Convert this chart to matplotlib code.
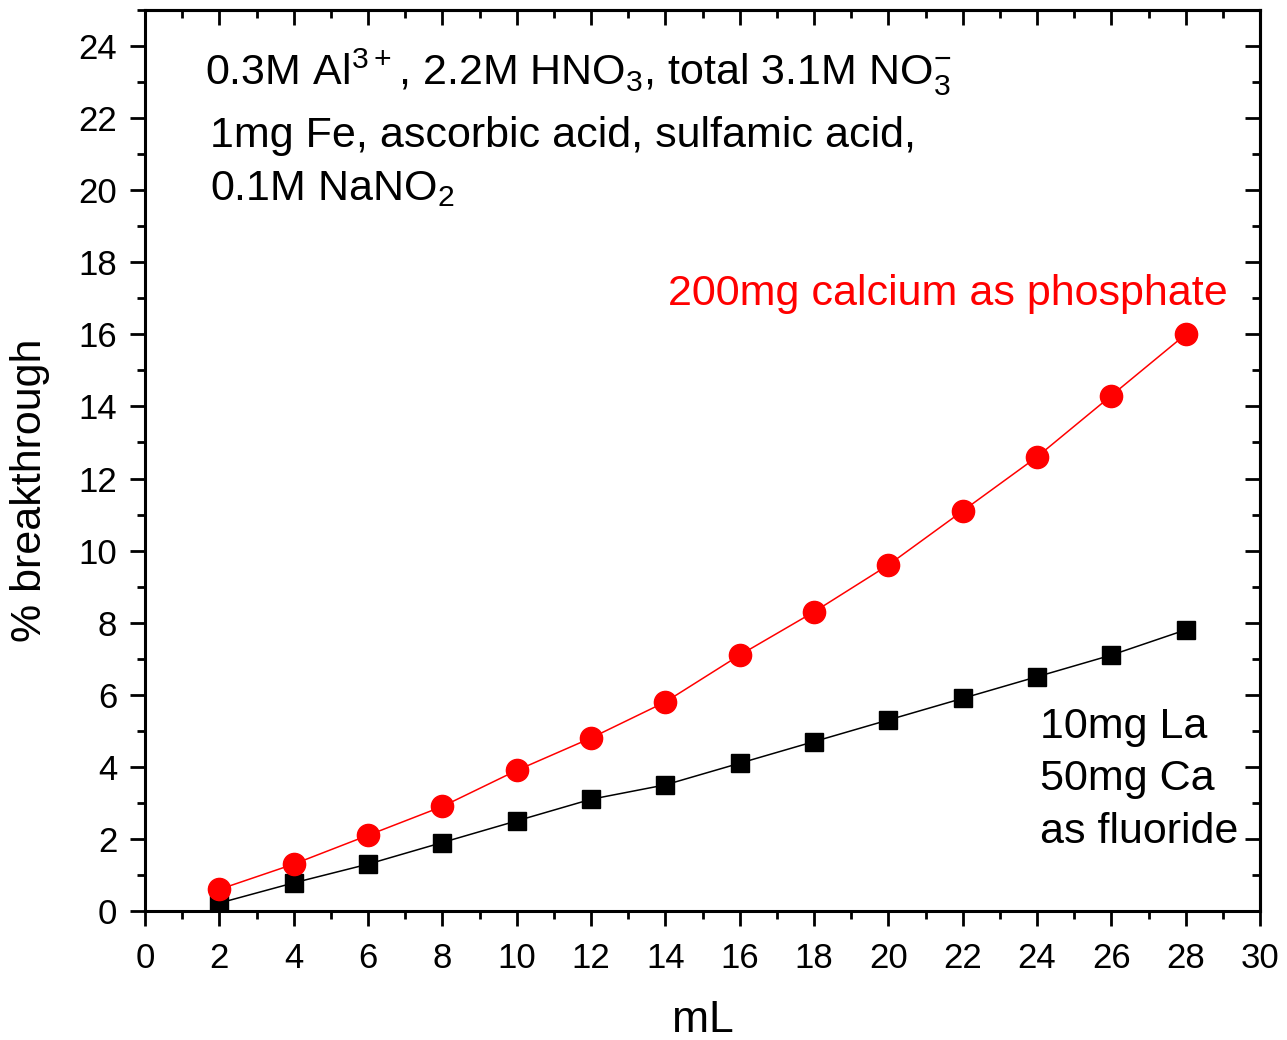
import matplotlib
matplotlib.use("Agg")
import matplotlib.pyplot as plt
from matplotlib.ticker import MultipleLocator

plt.rcParams['font.family'] = ['Liberation Sans', 'DejaVu Sans']
plt.rcParams['mathtext.default'] = 'regular'

volume_ml = [2, 4, 6, 8, 10, 12, 14, 16, 18, 20, 22, 24, 26, 28]
phosphate_pct = [0.6, 1.3, 2.1, 2.9, 3.9, 4.8, 5.8, 7.1, 8.3, 9.6, 11.1, 12.6, 14.3, 16.0]
fluoride_pct = [0.22, 0.78, 1.3, 1.9, 2.5, 3.1, 3.5, 4.1, 4.7, 5.3, 5.9, 6.5, 7.1, 7.8]

fig = plt.figure(figsize=(12.87, 10.4), dpi=100)
ax = fig.add_axes([145/1287, 129/1040, (1260-145)/1287, (911-10)/1040])

ax.plot(volume_ml, fluoride_pct, color='black', lw=1.1, marker='s', ms=13, mec='black', mfc='black', zorder=3)
ax.plot(volume_ml, phosphate_pct, color='red', lw=1.1, marker='o', ms=16, mec='red', mfc='red', zorder=4)

ax.set_xlim(0, 30)
ax.set_ylim(0, 25)
ax.xaxis.set_major_locator(MultipleLocator(2))
ax.xaxis.set_minor_locator(MultipleLocator(1))
ax.yaxis.set_major_locator(MultipleLocator(2))
ax.yaxis.set_minor_locator(MultipleLocator(1))
ax.set_yticks(range(0, 25, 2))

for s in ax.spines.values():
    s.set_linewidth(2.2)

ax.tick_params(axis='both', which='major', direction='out', length=11, width=2, labelsize=25)
ax.tick_params(axis='x', which='major', pad=11)
ax.tick_params(axis='y', which='major', pad=9)
ax.tick_params(axis='both', which='minor', direction='out', length=6, width=2)

axt = ax.secondary_xaxis('top')
axt.xaxis.set_major_locator(MultipleLocator(2))
axt.xaxis.set_minor_locator(MultipleLocator(1))
axt.tick_params(which='major', direction='in', length=11, width=2, labeltop=False)
axt.tick_params(which='minor', direction='in', length=6, width=2)
axt.spines['top'].set_linewidth(2.2)
axr = ax.secondary_yaxis('right')
axr.yaxis.set_major_locator(MultipleLocator(2))
axr.yaxis.set_minor_locator(MultipleLocator(1))
axr.tick_params(which='major', direction='in', length=11, width=2, labelright=False)
axr.tick_params(which='minor', direction='in', length=6, width=2)
axr.spines['right'].set_linewidth(2.2)

ax.set_xlabel('mL', fontsize=32, labelpad=18)
ax.set_ylabel('% breakthrough', fontsize=31)
ax.yaxis.set_label_coords(-0.085, 0.467)

fs = 31
fig.text(205/1287, (1040-85)/1040, r'0.3M Al$^{3+}$, 2.2M HNO$_3$, total 3.1M NO$_3^{-}$',
         fontsize=fs, va='baseline', ha='left')
fig.text(210/1287, (1040-147)/1040, '1mg Fe, ascorbic acid, sulfamic acid,',
         fontsize=fs, va='baseline', ha='left')
fig.text(210/1287, (1040-200)/1040, r'0.1M NaNO$_2$',
         fontsize=fs, va='baseline', ha='left')

fig.text(668/1287, (1040-305)/1040, '200mg calcium as phosphate', color='red', fontsize=fs, va='baseline')
fig.text(1040/1287, (1040-738)/1040, '10mg La', fontsize=fs, va='baseline')
fig.text(1040/1287, (1040-790)/1040, '50mg Ca', fontsize=fs, va='baseline')
fig.text(1040/1287, (1040-843)/1040, 'as fluoride', fontsize=fs, va='baseline')

fig.savefig('out.png', dpi=100)
